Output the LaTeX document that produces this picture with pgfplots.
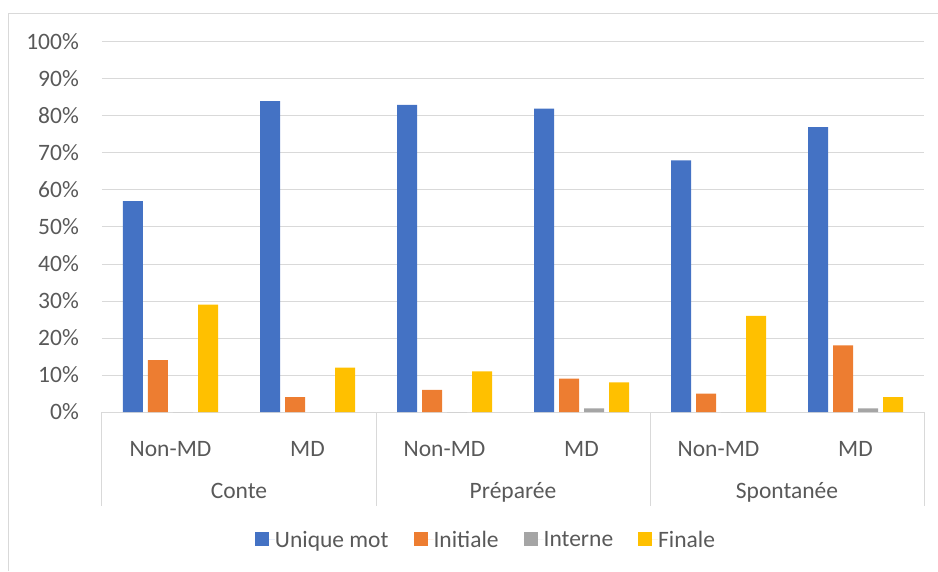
\documentclass[border=0pt]{standalone}
\usepackage{pgfplots}
\pgfplotsset{compat=1.18}
\usepackage{fontspec}
\setmainfont{Carlito}
\definecolor{cblue}{HTML}{4472C4}
\definecolor{corange}{HTML}{ED7D31}
\definecolor{cgray}{HTML}{A5A5A5}
\definecolor{cyellow}{HTML}{FFC000}
\definecolor{gridgray}{HTML}{D9D9D9}
\definecolor{textgray}{HTML}{595959}
\newcommand{\lblfont}{\fontsize{23.5}{28}\selectfont}
\begin{document}
\begin{tikzpicture}[x=1pt,y=1pt]
\useasboundingbox (0,0) rectangle (938,571);
\draw[gridgray, line width=1pt] (8.5,0) -- (8.5,557) -- (938,557);
\begin{axis}[
  at={(102pt,159pt)}, anchor=south west,
  scale only axis, width=822pt, height=370pt,
  xmin=-0.5, xmax=5.5, ymin=0, ymax=100,
  ybar=5pt, bar width=20pt,
  xtick={0,1,2,3,4,5},
  xticklabels={Non-MD,MD,Non-MD,MD,Non-MD,MD},
  ytick={0,10,...,100},
  yticklabel={\pgfmathprintnumber{\tick}\%},
  /pgf/number format/assume math mode=true,
  ymajorgrids, grid style={gridgray, line width=1pt},
  axis line style={draw=none},
  major tick style={draw=none},
  tick label style={font=\lblfont, text=textgray, inner sep=0pt},
  xticklabel style={anchor=base, yshift=-40pt},
  yticklabel style={anchor=east, xshift=-23pt},
  clip=false,
  legend columns=4,
  legend style={draw=none, fill=none, at={(0.1861,-0.321)}, anchor=north west,
    font=\lblfont, text=textgray, inner sep=0pt, outer sep=0pt,
    nodes={inner sep=0pt},
    /tikz/every even column/.append style={column sep=25pt}},
  legend image code/.code={\fill[#1] (0pt,-6pt) rectangle (14pt,7.5pt); \path (0pt,0pt) -- (20pt,0pt);},
]
\addplot[fill=cblue, draw=none] coordinates {(0,57) (1,84) (2,83) (3,82) (4,68) (5,77)};
\addplot[fill=corange, draw=none] coordinates {(0,14) (1,4) (2,6) (3,9) (4,5) (5,18)};
\addplot[fill=cgray, draw=none] coordinates {(0,0) (1,0) (2,0) (3,1) (4,0) (5,1)};
\addplot[fill=cyellow, draw=none] coordinates {(0,29) (1,12) (2,11) (3,8) (4,26) (5,4)};
\legend{Unique mot, Initiale, Interne, Finale}
\pgfplotsinvokeforeach{-0.5,1.5,3.5,5.5}{
  \draw[gridgray, line width=1pt] (axis cs:#1,0) -- ++(0pt,-94pt);
}
\node[anchor=base, font=\lblfont, text=textgray, inner sep=0pt] at (axis cs:0.5,0) [yshift=-86pt] {Conte};
\node[anchor=base, font=\lblfont, text=textgray, inner sep=0pt] at (axis cs:2.5,0) [yshift=-86pt] {Préparée};
\node[anchor=base, font=\lblfont, text=textgray, inner sep=0pt] at (axis cs:4.5,0) [yshift=-86pt] {Spontanée};
\end{axis}
\end{tikzpicture}
\end{document}
